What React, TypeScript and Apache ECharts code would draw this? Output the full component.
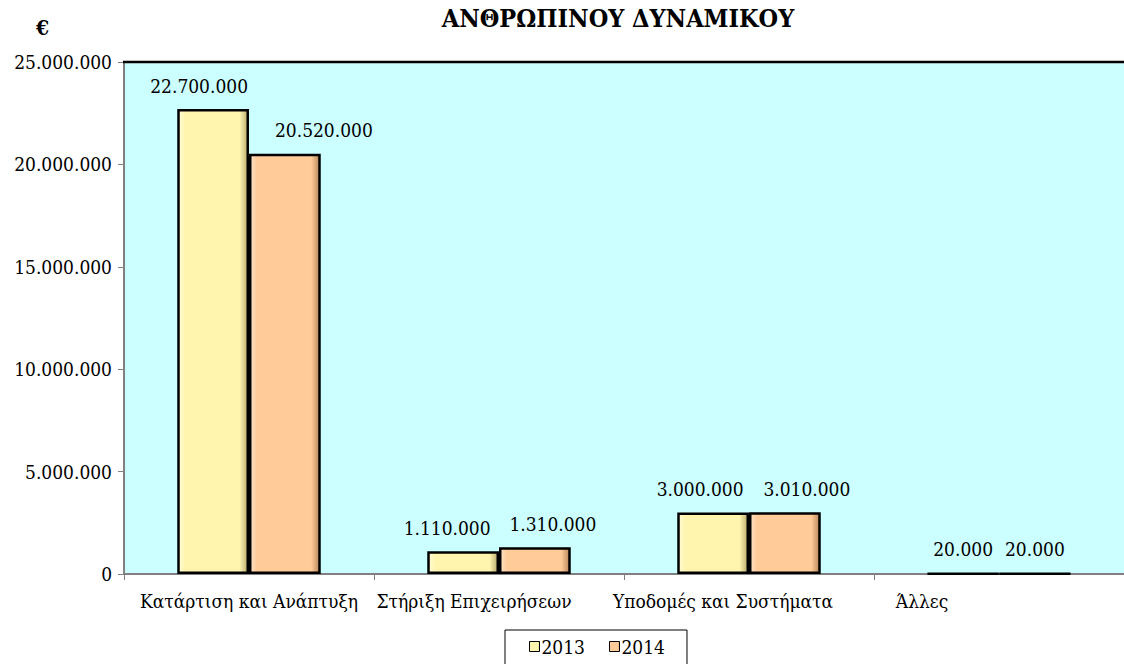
import React, { useEffect, useRef } from "react";
import * as echarts from "echarts";

const categories = [
  "Κατάρτιση και Ανάπτυξη",
  "Στήριξη Επιχειρήσεων",
  "Υποδομές και Συστήματα",
  "Άλλες",
];
const seriesNames = ["2013", "2014"];
const values2013 = [22700000, 1110000, 3000000, 20000];
const values2014 = [20520000, 1310000, 3010000, 20000];
const yTicks = [0, 5000000, 10000000, 15000000, 20000000, 25000000];

// styling helpers (horizontal label shifts, px)
const labelShift2013 = [-14, -16, -13, 0];
const labelShift2014 = [39, 18, 22, 0];
const catLabelShift = [0, -25, -26, -77];

const FONT = "DejaVu Serif Condensed, DejaVu Serif";
const FS = 19;

const fmt = (v: number) =>
  String(Math.round(v)).replace(/\B(?=(\d{3})+(?!\d))/g, ".");

const bevel = (base: string, light: string, dark: string) => ({
  type: "linear",
  x: 0,
  y: 0,
  x2: 1,
  y2: 0,
  colorStops: [
    { offset: 0, color: light },
    { offset: 0.1, color: base },
    { offset: 0.88, color: base },
    { offset: 1, color: dark },
  ],
});

export default function App() {
  const ref = useRef<HTMLDivElement>(null);
  useEffect(() => {
    if (!ref.current) return;
    const chart = echarts.init(ref.current, undefined, { renderer: "svg" });
    const yellow = bevel("#FFF5AE", "#FFFBD6", "#B8AC70");
    const peach = bevel("#FFCB98", "#FFE2C6", "#B8875C");
    const mkData = (vals: number[], shifts: number[]) =>
      vals.map((v, i) => ({
        value: v,
        label: { offset: [shifts[i], 0] },
      }));
    const barLabel = {
      show: true,
      position: "top",
      distance: 14,
      fontFamily: FONT,
      fontSize: FS,
      color: "#000",
      formatter: (p: any) => fmt(p.value),
    };
    chart.setOption({
      animation: false,
      backgroundColor: "#FFFFFF",
      textStyle: { fontFamily: FONT },
      title: {
        text: "ΑΝΘΡΩΠΙΝΟΥ ΔΥΝΑΜΙΚΟΥ",
        left: 618,
        textAlign: "center",
        top: 6,
        padding: 0,
        textStyle: { fontFamily: FONT, fontSize: 25, fontWeight: "bold", color: "#000" },
      },
      graphic: [
        {
          type: "text",
          left: 36,
          top: 17,
          style: { text: "€", fontFamily: FONT, fontSize: 21, fontWeight: "bold", fill: "#000" },
        },
        {
          type: "line",
          shape: { x1: 123, y1: 62, x2: 1124, y2: 62 },
          style: { stroke: "#000", lineWidth: 2.5 },
          z: 10,
        },
      ],
      legend: {
        data: seriesNames,
        left: 505,
        top: 630,
        padding: [7, 22, 12, 24],
        borderColor: "#000",
        borderWidth: 1,
        itemWidth: 10,
        itemHeight: 10,
        itemGap: 24,
        icon: "rect",
        textStyle: { fontFamily: FONT, fontSize: FS, color: "#000", padding: [0, 0, 0, -3] },
        itemStyle: { borderColor: "#000", borderWidth: 1 },
      },
      grid: {
        show: true,
        left: 124,
        top: 62,
        width: 1010,
        height: 512,
        backgroundColor: "#CCFFFF",
        borderWidth: 0,
      },
      xAxis: {
        type: "category",
        data: categories,
        axisLine: { show: true, lineStyle: { color: "#808080", width: 2 } },
        axisTick: { show: true, length: 6, lineStyle: { color: "#808080" } },
        axisLabel: {
          interval: 0,
          margin: 17,
          fontFamily: FONT,
          fontSize: FS,
          color: "#000",
          formatter: (v: string) => `{c${categories.indexOf(v)}|${v}}`,
          rich: Object.fromEntries(
            catLabelShift.map((s, i) => [
              `c${i}`,
              {
                fontFamily: FONT,
                fontSize: FS,
                color: "#000",
                padding: [0, Math.max(0, -2 * s), 0, Math.max(0, 2 * s)],
              },
            ])
          ),
        },
      },
      yAxis: {
        type: "value",
        min: 0,
        max: 25000000,
        interval: 5000000,
        axisLine: { show: true, lineStyle: { color: "#808080", width: 2 } },
        axisTick: { show: true, length: 6, lineStyle: { color: "#808080" } },
        splitLine: { show: false },
        axisLabel: {
          margin: 12,
          fontFamily: FONT,
          fontSize: FS,
          color: "#000",
          formatter: (v: number) => (yTicks.includes(v) ? fmt(v) : ""),
        },
      },
      series: [
        {
          name: seriesNames[0],
          type: "bar",
          data: mkData(values2013, labelShift2013),
          barGap: "0%",
          barCategoryGap: "42.6%",
          itemStyle: { color: yellow, borderColor: "#000", borderWidth: 2.5 },
          label: barLabel,
        },
        {
          name: seriesNames[1],
          type: "bar",
          data: mkData(values2014, labelShift2014),
          itemStyle: { color: peach, borderColor: "#000", borderWidth: 2.5 },
          label: barLabel,
        },
      ],
    });
    return () => chart.dispose();
  }, []);
  return (
    <div
      ref={ref}
      style={{ position: "fixed", left: 0, top: 0, width: 1124, height: 664 }}
    />
  );
}
